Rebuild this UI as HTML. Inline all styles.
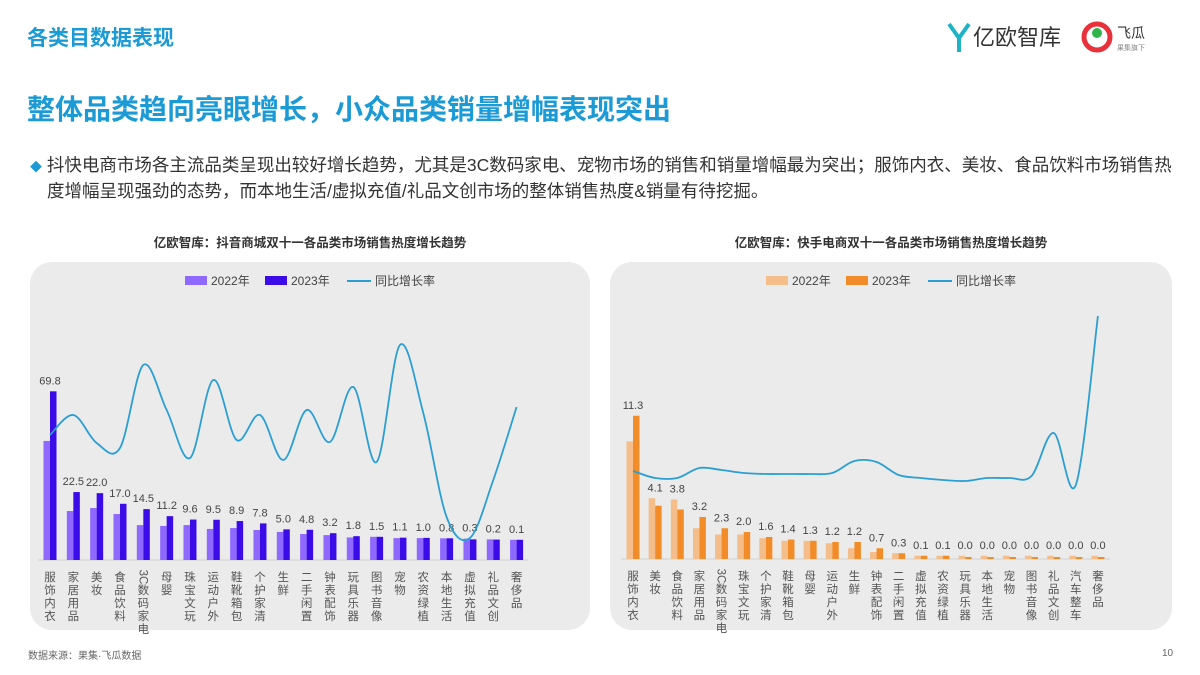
<!DOCTYPE html>
<html><head><meta charset="utf-8">
<style>
body{margin:0;width:1200px;height:675px;background:#fff;overflow:hidden;font-family:"Liberation Sans","Noto Sans CJK SC",sans-serif;position:relative}
.abs{position:absolute}
</style></head><body>
<div class="abs" style="left:27px;top:22px;font-size:21px;font-weight:bold;color:#1b9ad6">各类目数据表现</div>
<div class="abs" style="left:945px;top:18px;width:225px;height:36px">
 <svg width="225" height="36"><path d="M4 6 L14 20 L24 6" stroke="#1fb3c8" stroke-width="4" fill="none"/><line x1="14" y1="20" x2="14" y2="34" stroke="#1fb3c8" stroke-width="4"/>
 <text x="28" y="27" font-size="22" fill="#333" font-family="Liberation Sans,Noto Sans CJK SC,sans-serif">亿欧智库</text>
 <circle cx="152" cy="19" r="13" fill="none" stroke="#e8313a" stroke-width="5"/><circle cx="152" cy="15" r="5" fill="#2fb34a"/>
 <text x="172" y="20" font-size="14" fill="#333" font-family="Liberation Sans,Noto Sans CJK SC,sans-serif">飞瓜</text>
 <text x="172" y="32" font-size="7" fill="#888" font-family="Liberation Sans,Noto Sans CJK SC,sans-serif">果集旗下</text></svg>
</div>
<div class="abs" style="left:27px;top:88px;font-size:28px;font-weight:bold;color:#1b9ad6">整体品类趋向亮眼增长，小众品类销量增幅表现突出</div>
<div class="abs" style="left:30px;top:153px;width:1170px;font-size:17.5px;line-height:24px;color:#333;white-space:nowrap"><span style="color:#1b9ad6;font-size:12px">◆</span> 抖快电商市场各主流品类呈现出较好增长趋势，尤其是3C数码家电、宠物市场的销售和销量增幅最为突出；服饰内衣、美妆、食品饮料市场销售热<br><span style="padding-left:17px">度增幅呈现强劲的态势，而本地生活/虚拟充值/礼品文创市场的整体销售热度&amp;销量有待挖掘。</span></div>
<div class="abs" style="left:28px;top:647px;font-size:10px;color:#666">数据来源：果集·飞瓜数据</div>
<div class="abs" style="left:1162px;top:648px;font-size:10px;color:#666">10</div>
<svg id="c" class="abs" style="left:0;top:0" width="1200" height="675"></svg>
<script>
const leftCats=["服饰内衣","家居用品","美妆","食品饮料","3C数码家电","母婴","珠宝文玩","运动户外","鞋靴箱包","个护家清","生鲜","二手闲置","钟表配饰","玩具乐器","图书音像","宠物","农资绿植","本地生活","虚拟充值","礼品文创","奢侈品"];
const left2022=[46.5,13.6,15,12.2,7,6.6,7,5.2,5.6,4.7,3.8,2.8,2.3,1.2,1.5,0.9,0.9,0.8,0.6,0.3,0.1];
const left2023=[69.8,22.5,22.0,17.0,14.5,11.2,9.6,9.5,8.9,7.8,5.0,4.8,3.2,1.8,1.5,1.1,1.0,0.8,0.3,0.2,0.1];
const leftGrowth=[125,145,117,112,195,150,102,180,120,145,100,150,118,173,98,215,147,43,22,80,153];
const rightCats=["服饰内衣","美妆","食品饮料","家居用品","3C数码家电","珠宝文玩","个护家清","鞋靴箱包","母婴","运动户外","生鲜","钟表配饰","二手闲置","虚拟充值","农资绿植","玩具乐器","本地生活","宠物","图书音像","礼品文创","汽车整车","奢侈品"];
const right2022=[9.25,4.7,4.6,2.3,1.8,1.8,1.5,1.3,1.3,1.1,0.7,0.4,0.3,0.1,0.1,0.1,0.1,0.1,0.1,0.1,0.1,0.1];
const right2023=[11.3,4.1,3.8,3.2,2.3,2.0,1.6,1.4,1.3,1.2,1.2,0.7,0.3,0.1,0.1,0.0,0.0,0.0,0.0,0.0,0.0,0.0];
const rightGrowth=[88,81,81,91,89,86,85,85,85,86,98,97,84,81,79,78,81,81,83,126,74,243];
const NS="http://www.w3.org/2000/svg";
const svg=document.getElementById('c');
function mk(t,a,p){const e=document.createElementNS(NS,t);for(const k in a)e.setAttribute(k,a[k]);(p||svg).appendChild(e);return e;}
function smooth(pts){let d="M"+pts[0][0]+","+pts[0][1];for(let i=0;i<pts.length-1;i++){const p0=pts[i-1]||pts[i],p1=pts[i],p2=pts[i+1],p3=pts[i+2]||p2;d+=" C"+(p1[0]+(p2[0]-p0[0])/6)+","+(p1[1]+(p2[1]-p0[1])/6)+" "+(p2[0]-(p3[0]-p1[0])/6)+","+(p2[1]-(p3[1]-p1[1])/6)+" "+p2[0]+","+p2[1];}return d;}
function chart(o){
 const g=mk('g',{});
 
 
 const bg=mk('rect',{x:o.px,y:262,width:o.pw,height:368,rx:22,fill:'#ebebeb'},g);
 
 
 const t=mk('text',{x:o.px+o.pw/2,y:247,'text-anchor':'middle','font-size':12.5,'font-weight':'bold',fill:'#333'},g);t.textContent=o.title;
 
 
 const lx=o.px+o.pw/2-125;
 [[o.c1,'2022年',0],[o.c2,'2023年',80]].forEach(([c,l,dx])=>{const r=mk('rect',{x:lx+dx,y:276,width:22,height:9,fill:c},g);const tt=mk('text',{x:lx+dx+26,y:285,'font-size':12,fill:'#444'},g);tt.textContent=l;});
 const ll=mk('line',{x1:lx+162,x2:lx+186,y1:281,y2:281,stroke:'#2b9fd3','stroke-width':2},g);
 const lt=mk('text',{x:lx+190,y:285,'font-size':12,fill:'#444'},g);lt.textContent='同比增长率';
 const base=o.base;
 const xs=i=>o.x0+i*o.step;
 const h=v=>o.off+v*o.k;
 const ax=mk('line',{x1:o.x0-12,x2:xs(o.cats.length-1)+12,y1:base,y2:base,stroke:'#d0d0d0'},g);
 o.cats.forEach((c,i)=>{
  const x=xs(i);
  const b1=mk('rect',{x:x-6.5,y:base-h(o.a[i]),width:6.5,height:h(o.a[i]),fill:o.c1},g);
  
  const b2=mk('rect',{x:x,y:base-h(o.b[i]),width:6.5,height:h(o.b[i]),fill:o.c2},g);
  
  const top=Math.min(base-h(o.a[i]),base-h(o.b[i]));
  const vl=mk('text',{x:x,y:top-7,'text-anchor':'middle','font-size':11,fill:'#444'},g);vl.textContent=o.b[i].toFixed(1);
  
  const chars=c.replace('3C','').split('');
  if(c.startsWith('3C'))chars.unshift('3C');
  chars.forEach((ch,j)=>{const tt=mk('text',{x:x,y:base+21+j*13,'text-anchor':'middle','font-size':11.5,fill:'#555'},g);tt.textContent=ch;if(ch==='3C')tt.setAttribute('transform','rotate(90 '+x+' '+(base+17)+')');});
 });
 const pts=o.g.map((v,i)=>[xs(i),base-v]);
 const p=mk('path',{d:smooth(pts),fill:'none',stroke:'#2b9fd3','stroke-width':1.8},g);
 
}
chart({name:'douyin-chart',px:30,pw:560,title:'亿欧智库：抖音商城双十一各品类市场销售热度增长趋势',c1:'#8e68ff',c2:'#3b0ce8',cats:leftCats,a:left2022,b:left2023,g:leftGrowth,x0:50,step:23.33,base:560,off:20,k:2.13});
chart({name:'kuaishou-chart',px:610,pw:562,title:'亿欧智库：快手电商双十一各品类市场销售热度增长趋势',c1:'#f5bd8a',c2:'#f28c28',cats:rightCats,a:right2022,b:right2023,g:rightGrowth,x0:633,step:22.14,base:559,off:2,k:12.5});
</script>
</body></html>
